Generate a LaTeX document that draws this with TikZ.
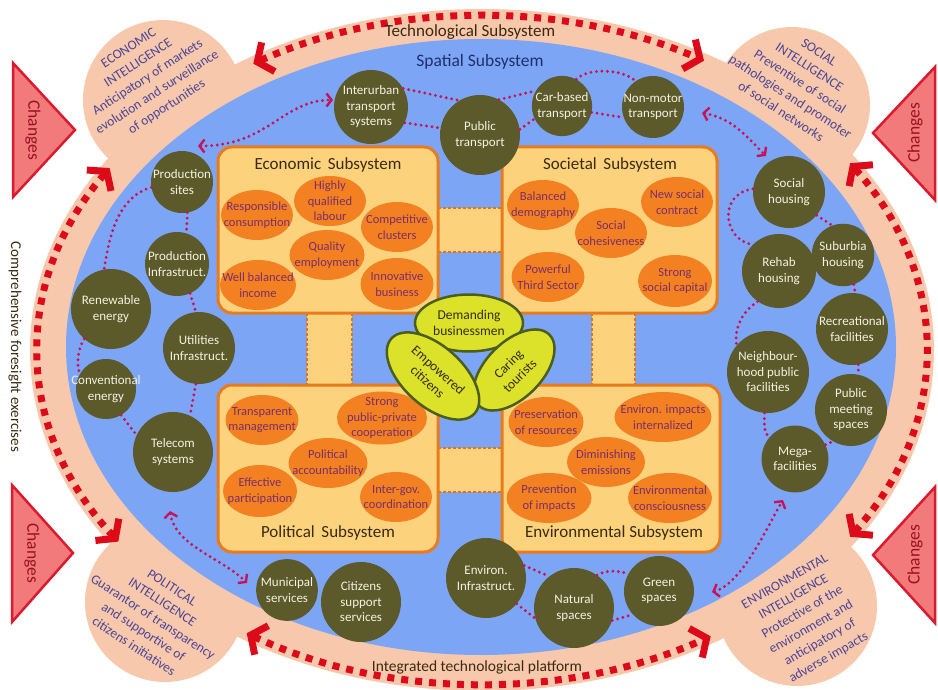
\documentclass[tikz,border=0pt]{standalone}
\usepackage{fontspec}
\setmainfont{Carlito}
\usetikzlibrary{shapes.geometric,arrows.meta,calc}
\definecolor{peach}{HTML}{F8C8AC}
\definecolor{bluee}{HTML}{7DA5F5}
\definecolor{boxF}{HTML}{FDD27D}
\definecolor{boxB}{HTML}{E87B1E}
\definecolor{orgE}{HTML}{F38122}
\definecolor{elltext}{HTML}{7A2E6A}
\definecolor{olivec}{HTML}{5C5A2B}
\definecolor{circtext}{HTML}{F5F1E0}
\definecolor{yelE}{HTML}{DCE22A}
\definecolor{yelB}{HTML}{4B5E1E}
\definecolor{triF}{HTML}{F27A7A}
\definecolor{triB}{HTML}{DA1A2E}
\definecolor{bigred}{HTML}{DD0A1A}
\definecolor{dotred}{HTML}{C4145A}
\definecolor{petaltext}{HTML}{4A4596}
\definecolor{navy}{HTML}{1F2F6E}
\definecolor{darktxt}{HTML}{3A2A10}
\definecolor{bridgeB}{HTML}{E0741E}
\begin{document}
\begin{tikzpicture}[x=1pt,y=-1pt,
  bub/.style={circle, fill=olivec, inner sep=-40pt, text=circtext, align=center, font=\fontsize{13}{15.5}\selectfont},
  oval/.style={ellipse, fill=orgE, inner sep=-40pt, text=elltext, align=center, font=\fontsize{12.5}{15.5}\selectfont, minimum width=72pt, minimum height=50pt},
  ylw/.style={ellipse, fill=yelE, draw=yelB, line width=2.5pt, inner sep=-40pt, text=darktxt, align=center, font=\fontsize{13.5}{16}\selectfont},
  subbox/.style={draw=boxB, fill=boxF, line width=3pt, rounded corners=14pt, inner sep=0pt},
  subtitle/.style={text=darktxt, font=\fontsize{17}{20}\selectfont},
  bigdot/.style={draw=bigred, line width=7pt, dash pattern=on 7pt off 7pt,
     {Straight Barb[length=12pt,width=32pt,line width=7pt]}-{Straight Barb[length=12pt,width=32pt,line width=7pt]}},
  smalldot/.style={draw=dotred, line width=3.2pt, line cap=round, dash pattern=on 0pt off 5.5pt},
  smallarr/.style={smalldot, {Straight Barb[length=5pt,width=13pt,line width=2.4pt]}-{Straight Barb[length=5pt,width=13pt,line width=2.4pt]}},
  bridgedot/.style={draw=bridgeB, line width=2.2pt, dash pattern=on 2.5pt off 2.5pt},
  tri/.style={fill=triF, draw=triB, line width=2.5pt, line join=miter},
  changes/.style={text=triB!70!black, font=\fontsize{17.5}{20}\selectfont},
  petal/.style={text=petaltext, align=center, font=\fontsize{13.5}{17.5}\selectfont},
]
\useasboundingbox (0,0) rectangle (938,690);

% peach ring and petals
\fill[peach] (482,350) ellipse[x radius=452, y radius=341];
\fill[peach] (163,100) circle[radius=80];
\fill[peach] (792,105) circle[radius=78];
\fill[peach] (165,602) circle[radius=80];
\fill[peach] (797,606) circle[radius=80];
% blue spatial ellipse
\fill[bluee] (481,347) ellipse[x radius=415, y radius=308];

% Changes triangles
\filldraw[tri] (13,63) -- (13,197) -- (75,130) -- cycle;
\node[changes, rotate=-90] (ch1) at (33,130) {Changes};
\filldraw[tri] (935,67) -- (935,200) -- (873,133) -- cycle;
\node[changes, rotate=90] (ch2) at (915,133) {Changes};
\filldraw[tri] (12,485) -- (12,622) -- (73,553) -- cycle;
\node[changes, rotate=-90] (ch3) at (32,553) {Changes};
\filldraw[tri] (935,487) -- (935,623) -- (873,555) -- cycle;
\node[changes, rotate=90] (ch4) at (915,555) {Changes};

\node[rotate=-90, text=darktxt, font=\fontsize{15}{18}\selectfont] (cfe) at (15,347) {Comprehensive foresight exercises};

% big dotted arcs
\coordinate (C) at (482,350);
\draw[bigdot] ($(C)+(-121:444 and 334)$) arc[start angle=-121, end angle=-60, x radius=444, y radius=334];
\draw[bigdot] ($(C)+(-34:444 and 334)$) arc[start angle=-34, end angle=34, x radius=444, y radius=334];
\draw[bigdot] ($(C)+(122:444 and 334)$) arc[start angle=122, end angle=59, x radius=444, y radius=334];
\draw[bigdot] ($(C)+(213:444 and 334)$) arc[start angle=213, end angle=145, x radius=444, y radius=334];

\node[text=darktxt, font=\fontsize{17}{20}\selectfont] (tech) at (470,32) {Technological Subsystem};
\node[text=navy, font=\fontsize{17.5}{20}\selectfont] (spat) at (480,62) {Spatial Subsystem};
\node[text=darktxt, font=\fontsize{15.5}{18}\selectfont] (itp) at (477,667) {Integrated technological platform};

% petal texts
\node[petal, rotate=33] (pe1) at (148,78) {ECONOMIC\\INTELLIGENCE\\Anticipatory of markets\\evolution and surveillance\\of opportunities};
\node[petal, rotate=-33] (pe2) at (800,82) {SOCIAL\\INTELLIGENCE\\Preventive of social\\pathologies and promoter\\of social networks};
\node[petal, rotate=-33] (pe3) at (153,617) {POLITICAL\\INTELLIGENCE\\Guarantor of transparency\\and supportive of\\citizens initiatives};
\node[petal, rotate=30] (pe4) at (807,620) {ENVIRONMENTAL\\INTELLIGENCE\\Protective of the\\environment and\\anticipatory of\\adverse impacts};

% bridges between subsystem boxes
\fill[boxF] (436,208) rectangle (504,252);
\draw[bridgedot] (438,208) -- (502,208);
\draw[bridgedot] (438,252) -- (502,252);
\fill[boxF] (436,448) rectangle (504,492);
\draw[bridgedot] (438,448) -- (502,448);
\draw[bridgedot] (438,492) -- (502,492);
\fill[boxF] (307,311) rectangle (352,387);
\draw[bridgedot] (307,313) -- (307,385);
\draw[bridgedot] (352,313) -- (352,385);
\fill[boxF] (592,311) rectangle (635,387);
\draw[bridgedot] (592,313) -- (592,385);
\draw[bridgedot] (635,313) -- (635,385);

% subsystem boxes
\node[subbox, minimum width=220pt, minimum height=166pt] (econ) at (328,230) {};
\node[subbox, minimum width=215pt, minimum height=166pt] (socs) at (609.5,230) {};
\node[subbox, minimum width=220pt, minimum height=167pt] (polb) at (328,468.5) {};
\node[subbox, minimum width=218pt, minimum height=167pt] (envb) at (611,468.5) {};
\node[subtitle] (econt) at (328,165) {Economic\, Subsystem};
\node[subtitle] (socst) at (610,165) {Societal\, Subsystem};
\node[subtitle] (polt) at (328,533) {Political\, Subsystem};
\node[subtitle] (envt) at (614,533) {Environmental Subsystem};

% economic ellipses
\node[oval] (rc) at (257,215) {Responsible\\consumption};
\node[oval] (hq) at (330,201) {Highly\\qualified\\labour};
\node[oval] (cc) at (397,227) {Competitive\\clusters};
\node[oval, minimum width=75pt] (qe) at (327,255) {Quality\\employment};
\node[oval, minimum width=76pt] (wb) at (258,285) {Well balanced\\income};
\node[oval, minimum width=73pt, minimum height=52pt] (ib) at (397,284) {Innovative\\business};
% societal
\node[oval] (bd) at (543,205) {Balanced\\demography};
\node[oval] (ns) at (677,202) {New social\\contract};
\node[oval] (sc) at (611,233) {Social\\cohesiveness};
\node[oval, minimum width=73pt] (pt) at (548,277) {Powerful\\Third Sector};
\node[oval, minimum width=74pt, minimum height=52pt] (ss) at (675,281) {Strong\\social capital};
% political
\node[oval, minimum width=73pt] (tm) at (262,420) {Transparent\\management};
\node[oval, minimum width=90pt, minimum height=53pt] (sp) at (382,418) {Strong\\public-private\\cooperation};
\node[oval, minimum width=79pt] (pa) at (328,463) {Political\\accountability};
\node[oval, minimum width=74pt, minimum height=52pt] (ep) at (260,491) {Effective\\participation};
\node[oval] (ig) at (396,497) {Inter-gov.\\coordination};
% environmental
\node[oval, minimum width=75pt] (pr) at (546,422) {Preservation\\of resources};
\node[oval, minimum width=97pt] (eii) at (663,417) {Environ. impacts\\internalized};
\node[oval, minimum width=78pt] (de) at (606,462) {Diminishing\\emissions};
\node[oval, minimum width=85pt] (pi) at (549,498) {Prevention\\of impacts};
\node[oval, minimum width=84pt] (ec) at (670,498) {Environmental\\consciousness};

% central actors
\node[ylw, minimum width=108pt, minimum height=57pt] (dem) at (469,323) {Demanding\\businessmen};
\node[ylw, rotate=45, minimum width=100pt, minimum height=56pt] (car2) at (514,370) {Caring\\tourists};
\node[ylw, rotate=-42, minimum width=112pt, minimum height=60pt] (emp) at (433,376) {Empowered\\citizens};

% circles - top
\node[bub, minimum size=74pt] (inter) at (371,107) {Interurban\\transport\\systems};
\node[bub, minimum size=80pt] (pub) at (480,135) {Public\\transport};
\node[bub, minimum size=58pt] (carb) at (562,106) {Car-based\\transport};
\node[bub, minimum size=62pt] (non) at (653,107) {Non-motor\\transport};
% left
\node[bub, minimum size=62pt] (prod) at (182,182) {Production\\sites};
\node[bub, minimum size=64pt] (pinf) at (177,264) {Production\\Infrastruct.};
\node[bub, minimum size=80pt] (ren) at (111,309) {Renewable\\energy};
\node[bub, minimum size=72pt] (util) at (199,348) {Utilities\\Infrastruct.};
\node[bub, minimum size=60pt] (conv) at (106,389) {Conventional\\energy};
\node[bub, minimum size=80pt] (tel) at (173,452) {Telecom\\systems};
% right
\node[bub, minimum size=72pt] (soch) at (789,192) {Social\\housing};
\node[bub, minimum size=46pt] (sub) at (843,255) {Suburbia\\housing};
\node[bub, minimum size=74pt] (reh) at (779,271) {Rehab\\housing};
\node[bub, minimum size=72pt] (rec) at (852,329) {Recreational\\facilities};
\node[bub, minimum size=82pt] (nei) at (768,372) {Neighbour-\\hood public\\facilities};
\node[bub, minimum size=72pt] (pm) at (851,410) {Public\\meeting\\spaces};
\node[bub, minimum size=58pt] (mega) at (795,459) {Mega-\\facilities};
% bottom
\node[bub, minimum size=58pt] (mun) at (287,590) {Municipal\\services};
\node[bub, minimum size=80pt] (cit) at (361,602) {Citizens\\support\\services};
\node[bub, minimum size=80pt] (einf) at (486,578) {Environ.\\Infrastruct.};
\node[bub, minimum size=80pt] (nat) at (574,608) {Natural\\spaces};
\node[bub, minimum size=70pt] (grn) at (659,591) {Green\\spaces};

% dotted connectors - top
\draw[smalldot] (inter.30) -- (pub.121);
\draw[smalldot] (inter.-25) -- (pub.170);
\draw[smalldot] (pub.62) .. controls +(15,-3) and +(-10,2) .. (carb.150);
\draw[smalldot] (pub.8) -- (carb.205);
\draw[smalldot] (carb.62) .. controls +(12,-12) and +(-12,-12) .. (non.124);
\draw[smalldot] (carb.-12) -- (non.200);
% left
\draw[smalldot] (prod.190) .. controls +(-35,10) and +(5,-30) .. (ren.100);
\draw[smalldot] (prod.-80) -- (pinf.73);
\draw[smalldot] (pinf.-66) -- (util.95);
\draw[smalldot] (ren.228) .. controls +(-6,10) and +(-4,-10) .. (conv.150);
\draw[smalldot] (conv.-60) -- (tel.155);
\draw[smalldot] (util.-95) -- (tel.65);
% right
\draw[smalldot] (soch.175) .. controls +(-35,5) and +(-30,-5) .. (reh.135);
\draw[smalldot] (soch.-40) -- (sub.110);
\draw[smalldot] (sub.-70) -- (rec.85);
\draw[smalldot] (reh.235) .. controls +(-18,12) and +(-2,-15) .. (nei.140);
\draw[smalldot] (rec.-80) -- (pm.78);
\draw[smalldot] (nei.-95) .. controls +(0,12) and +(-6,-6) .. (mega.140);
\draw[smalldot] (mega.25) -- (pm.240);
% bottom
\draw[smalldot] (einf.18) -- (nat.128);
\draw[smalldot] (einf.-40) -- (nat.195);
\draw[smalldot] (nat.55) .. controls +(10,-6) and +(-10,-2) .. (grn.150);
\draw[smalldot] (nat.-18) -- (grn.222);

% dotted double arrows
\coordinate (a1s) at (198,146); \coordinate (a1e) at (333,100);
\draw[smallarr] (a1s) .. controls +(70,0) and +(-50,0) .. (a1e);
\coordinate (a2s) at (702,113); \coordinate (a2e) at (766,156);
\draw[smallarr] (a2s) .. controls +(30,5) and +(-20,-20) .. (a2e);
\coordinate (a3s) at (170,511); \coordinate (a3e) at (247,583);
\draw[smallarr] (a3s) .. controls +(5,35) and +(-25,-25) .. (a3e);
\coordinate (a4s) at (712,592); \coordinate (a4e) at (783,500);
\draw[smallarr] (a4s) .. controls +(30,-8) and +(-15,25) .. (a4e);
\end{tikzpicture}
\end{document}
